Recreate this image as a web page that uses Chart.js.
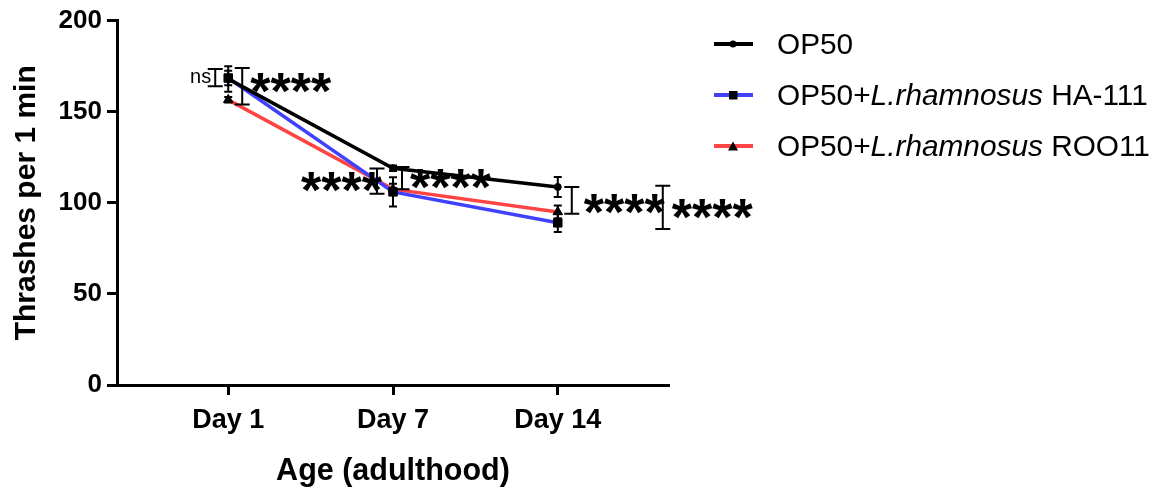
<!DOCTYPE html>
<html>
<head>
<meta charset="utf-8">
<script src="https://cdn.jsdelivr.net/npm/chart.js@4.4.1/dist/chart.umd.min.js"></script>
<style>
  body { margin: 0; background: #fff; }
  #wrap { position: relative; width: 1158px; height: 495px; }
  #legend { position: absolute; left: 714px; top: 18px; font: 29.8px "Liberation Sans", Arial, sans-serif; color: #000; }
  .row { display: flex; align-items: center; height: 51px; white-space: nowrap; }
  .swatch { position: relative; width: 39px; height: 4px; margin-right: 24px; flex: none; }
  .swatch svg { position: absolute; left: 14px; top: -3px; }
</style>
</head>
<body>
<div id="wrap">
  <canvas id="chart" width="1158" height="495"></canvas>
  <div id="legend"></div>
</div>
<script>
// values
const days = ['Day 1', 'Day 7', 'Day 14'];
const seriesNames = ['OP50', 'OP50+L.rhamnosus HA-111', 'OP50+L.rhamnosus ROO11'];
const op50 = [168, 119, 108.7];
const op50Sd = [7, 1.5, 5.5];
const ha111 = [168.5, 106, 89];
const ha111Sd = [4, 8, 5];
const roo11 = [156.5, 107.5, 95];
const roo11Sd = [1.5, 3, 3.5];
const yTicks = [0, 50, 100, 150, 200];

// significance brackets: day index, low / high end, label
const sigDay = [0, 0, 1, 1, 2, 2];
const sigLow = [164, 154, 105, 107.5, 94, 85.6];
const sigHigh = [173.5, 174, 118.8, 119.7, 108.7, 109.3];
const sigText = ['ns', '****', '****', '****', '****', '****'];

const FONT = '"Liberation Sans", Arial, sans-serif';
const colors = ['#000000', '#4040ff', '#ff4444'];
const shapes = ['circle', 'rect', 'triangle'];
const radii = [3.5, 6, 5.5];
const sds = [op50Sd, ha111Sd, roo11Sd];

// bracket placement (pixels relative to the day tick)
const sigDx = [-13, 14, -16, 9, 14, 105];
const sigSide = ['left', 'right', 'left', 'right', 'right', 'right'];
const sigGap = [4, 8, -5, 8, 12, 9];
const sigLift = [0, -3, 1, 1, 4, 2];

const errorBars = {
  id: 'errorBars',
  afterDatasetsDraw(chart) {
    const ctx = chart.ctx;
    const y = chart.scales.y;
    ctx.save();
    ctx.strokeStyle = '#000';
    ctx.lineWidth = 2;
    chart.data.datasets.forEach((ds, i) => {
      chart.getDatasetMeta(i).data.forEach((pt, j) => {
        const v = ds.data[j].y;
        const top = y.getPixelForValue(v + sds[i][j]);
        const bot = y.getPixelForValue(v - sds[i][j]);
        ctx.beginPath();
        ctx.moveTo(pt.x, top); ctx.lineTo(pt.x, bot);
        ctx.moveTo(pt.x - 4, top); ctx.lineTo(pt.x + 4, top);
        ctx.moveTo(pt.x - 4, bot); ctx.lineTo(pt.x + 4, bot);
        ctx.stroke();
      });
    });
    ctx.restore();
  }
};

const brackets = {
  id: 'brackets',
  afterDraw(chart) {
    const ctx = chart.ctx;
    const xs = chart.scales.x, ys = chart.scales.y;
    ctx.save();
    ctx.strokeStyle = '#000';
    ctx.fillStyle = '#000';
    ctx.lineWidth = 2;
    sigDay.forEach((d, k) => {
      const px = xs.getPixelForValue(d) + sigDx[k];
      const y1 = ys.getPixelForValue(sigHigh[k]);
      const y2 = ys.getPixelForValue(sigLow[k]);
      ctx.beginPath();
      ctx.moveTo(px, y1); ctx.lineTo(px, y2);
      ctx.moveTo(px - 7.5, y1); ctx.lineTo(px + 7.5, y1);
      ctx.moveTo(px - 7.5, y2); ctx.lineTo(px + 7.5, y2);
      ctx.stroke();

      const cy = (y1 + y2) / 2 + sigLift[k];
      const left = sigSide[k] === 'left';
      const tx = left ? px - sigGap[k] : px + sigGap[k];
      ctx.textAlign = left ? 'right' : 'left';
      if (sigText[k] === 'ns') {
        ctx.font = '20px ' + FONT;
        ctx.letterSpacing = '0px';
        ctx.textBaseline = 'middle';
        ctx.fillText(sigText[k], tx, cy);
      } else {
        ctx.font = 'bold 52px ' + FONT;
        ctx.letterSpacing = '0px';
        ctx.textBaseline = 'alphabetic';
        const m = ctx.measureText('*');
        const base = cy - (m.actualBoundingBoxDescent - m.actualBoundingBoxAscent) / 2;
        ctx.fillText(sigText[k], tx, base);
      }
    });
    ctx.restore();
  }
};

const series = [op50, ha111, roo11];
const datasets = series.map((vals, i) => ({
  label: seriesNames[i],
  data: vals.map((v, j) => ({ x: j, y: v })),
  borderColor: colors[i],
  borderWidth: 3.5,
  pointStyle: shapes[i],
  pointRadius: radii[i],
  pointBackgroundColor: '#000',
  pointBorderColor: '#000',
  pointBorderWidth: 1,
  tension: 0,
  fill: false
}));

new Chart(document.getElementById('chart'), {
  type: 'line',
  data: { datasets },
  plugins: [errorBars, brackets],
  options: {
    responsive: false,
    animation: false,
    devicePixelRatio: 1,
    layout: { padding: { top: 19, right: 489, left: 0, bottom: 0 } },
    plugins: { legend: { display: false }, tooltip: { enabled: false } },
    scales: {
      x: {
        type: 'linear',
        min: -0.675,
        max: 2.675,
        afterBuildTicks: s => { s.ticks = days.map((d, i) => ({ value: i })); },
        afterFit: s => { s.height = 110; },
        ticks: {
          callback: v => days[v],
          autoSkip: false,
          maxRotation: 0,
          color: '#000',
          padding: 9,
          font: { family: FONT, size: 27, weight: 'bold' }
        },
        grid: { drawOnChartArea: false, drawTicks: true, tickLength: 10, tickWidth: 3, tickColor: '#000' },
        border: { display: true, color: '#000', width: 3 },
        title: {
          display: true,
          text: 'Age (adulthood)',
          color: '#000',
          padding: { top: 4, bottom: 5 },
          font: { family: FONT, size: 30.5, weight: 'bold' }
        }
      },
      y: {
        min: 0,
        max: 200,
        afterBuildTicks: s => { s.ticks = yTicks.map(v => ({ value: v })); },
        afterFit: s => { s.width = 117; },
        ticks: {
          color: '#000',
          padding: 5,
          font: { family: FONT, size: 26, weight: 'bold' }
        },
        grid: { drawOnChartArea: false, drawTicks: true, tickLength: 10, tickWidth: 3, tickColor: '#000' },
        border: { display: true, color: '#000', width: 3 },
        title: {
          display: true,
          text: 'Thrashes per 1 min',
          color: '#000',
          padding: { top: 9, bottom: 4 },
          font: { family: FONT, size: 30, weight: 'bold' }
        }
      }
    }
  }
});

// legend with italic species names
const markerSvg = {
  circle: '<svg width="10" height="10"><circle cx="5" cy="5" r="3.5" fill="#000"/></svg>',
  rect: '<svg width="10" height="10"><rect x="1" y="1" width="8.5" height="8.5" fill="#000"/></svg>',
  triangle: '<svg width="10" height="10"><polygon points="5,0.5 10,9.5 0,9.5" fill="#000"/></svg>'
};
const legend = document.getElementById('legend');
seriesNames.forEach((name, i) => {
  const row = document.createElement('div');
  row.className = 'row';
  const sw = document.createElement('span');
  sw.className = 'swatch';
  sw.style.background = colors[i];
  sw.innerHTML = markerSvg[shapes[i]];
  const txt = document.createElement('span');
  const m = name.match(/^(OP50\+)(L\.rhamnosus)(.*)$/);
  if (m) {
    txt.append(m[1]);
    const it = document.createElement('i');
    it.textContent = m[2];
    txt.append(it, m[3]);
  } else {
    txt.textContent = name;
  }
  row.append(sw, txt);
  legend.append(row);
});
</script>
</body>
</html>
